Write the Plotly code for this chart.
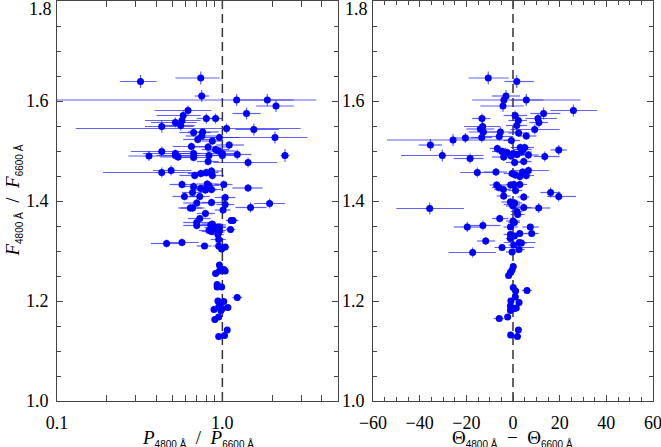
import plotly.graph_objects as go

# left panel: polarisation ratio vs flux ratio
left_ratio = [0.32, 0.74, 0.75, 1.22, 1.87, 2.11, 1.40, 0.62, 0.58, 0.57,
              0.52, 0.56, 0.43, 1.06, 0.80, 0.91, 1.55, 0.67, 0.76, 0.75,
              0.71, 0.96, 2.08, 0.87, 0.65, 0.82, 1.10, 0.91, 0.95, 1.00,
              0.67, 0.43, 0.52, 0.36, 0.52, 0.54, 0.67, 0.83, 1.00, 1.23,
              2.39, 1.43, 0.82, 0.43, 0.49, 0.68, 0.74, 0.80, 0.86, 0.87,
              1.02, 0.57, 0.67, 0.81, 0.83, 0.74, 0.79, 0.66, 0.86, 1.43,
              0.59, 0.73, 1.04, 0.86, 0.70, 1.04, 1.93, 1.48, 0.64, 0.66,
              1.01, 0.79, 1.13, 1.16, 0.73, 0.70, 0.70, 0.85, 0.87, 0.95,
              0.90, 0.83, 0.86, 0.95, 1.12, 0.95, 0.94, 0.46, 0.57, 0.78,
              0.95, 0.95, 0.99, 1.04, 0.96, 0.91, 0.96, 1.02, 1.04, 0.93,
              0.93, 0.99, 1.23, 0.94, 0.97, 1.02, 0.95, 1.00, 1.08, 0.89,
              0.98, 0.90, 0.95, 1.07, 0.95, 1.03]
left_ratio_lo = [0.24, 0.52, 0.68, 0.06, 1.28, 1.60, 1.15, 0.39, 0.40, 0.34,
                 0.37, 0.45, 0.34, 0.13, 0.70, 0.82, 1.20, 0.55, 0.62, 0.60,
                 0.58, 0.75, 0.88, 0.75, 0.50, 0.65, 0.92, 0.75, 0.80, 0.85,
                 0.55, 0.28, 0.33, 0.27, 0.40, 0.42, 0.55, 0.70, 0.85, 1.05,
                 2.25, 0.88, 0.70, 0.19, 0.38, 0.55, 0.62, 0.68, 0.74, 0.75,
                 0.90, 0.48, 0.55, 0.70, 0.72, 0.64, 0.68, 0.57, 0.76, 1.15,
                 0.50, 0.63, 0.90, 0.75, 0.58, 0.92, 1.55, 1.20, 0.54, 0.56,
                 0.90, 0.70, 1.05, 1.08, 0.62, 0.58, 0.58, 0.70, 0.75, 0.85,
                 0.78, 0.72, 0.75, 0.85, 1.05, 0.88, 0.85, 0.37, 0.46, 0.70,
                 0.85, 0.88, 0.93, 0.98, 0.93, 0.88, 0.93, 0.99, 1.01, 0.90,
                 0.90, 0.96, 1.15, 0.91, 0.94, 0.99, 0.92, 0.97, 1.05, 0.86,
                 0.95, 0.87, 0.92, 1.04, 0.92, 1.00]
left_ratio_hi = [0.40, 0.96, 0.83, 3.70, 2.70, 2.70, 1.70, 0.86, 0.74, 0.74,
                 0.70, 0.68, 0.67, 2.97, 0.92, 1.00, 2.20, 0.85, 0.95, 0.92,
                 0.88, 1.25, 3.27, 1.00, 0.85, 1.05, 1.35, 1.10, 1.20, 1.20,
                 0.82, 0.67, 0.74, 0.67, 0.72, 0.70, 0.85, 1.05, 1.25, 1.50,
                 2.55, 2.14, 0.95, 0.70, 0.65, 0.82, 0.90, 0.95, 1.00, 1.02,
                 1.15, 0.68, 0.80, 0.95, 0.96, 0.86, 0.92, 0.76, 0.98, 1.75,
                 0.70, 0.84, 1.20, 1.00, 0.85, 1.18, 2.40, 1.85, 0.75, 0.78,
                 1.12, 0.90, 1.22, 1.25, 0.85, 0.84, 0.86, 1.05, 1.00, 1.05,
                 1.05, 0.95, 0.98, 1.05, 1.20, 1.03, 1.02, 0.56, 0.72, 0.86,
                 1.05, 1.02, 1.05, 1.10, 0.99, 0.94, 0.99, 1.05, 1.07, 0.96,
                 0.96, 1.02, 1.32, 0.97, 1.00, 1.05, 0.98, 1.03, 1.11, 0.92,
                 1.01, 0.93, 0.98, 1.10, 0.98, 1.06]
left_flux = [1.639, 1.646, 1.610, 1.602, 1.602, 1.590, 1.575, 1.581, 1.571, 1.561,
             1.557, 1.551, 1.549, 1.545, 1.565, 1.565, 1.543, 1.537, 1.538, 1.530,
             1.523, 1.527, 1.527, 1.520, 1.509, 1.508, 1.512, 1.503, 1.500, 1.495,
             1.495, 1.499, 1.495, 1.490, 1.491, 1.488, 1.487, 1.491, 1.491, 1.493,
             1.491, 1.477, 1.479, 1.457, 1.461, 1.451, 1.455, 1.457, 1.460, 1.451,
             1.433, 1.433, 1.429, 1.434, 1.431, 1.425, 1.422, 1.417, 1.423, 1.426,
             1.409, 1.409, 1.407, 1.397, 1.396, 1.393, 1.395, 1.387, 1.386, 1.386,
             1.382, 1.375, 1.361, 1.361, 1.365, 1.357, 1.351, 1.352, 1.354, 1.348,
             1.347, 1.341, 1.339, 1.341, 1.343, 1.338, 1.333, 1.315, 1.317, 1.310,
             1.323, 1.310, 1.304, 1.308, 1.272, 1.255, 1.260, 1.263, 1.260, 1.233,
             1.228, 1.228, 1.207, 1.200, 1.197, 1.199, 1.188, 1.185, 1.187, 1.183,
             1.181, 1.163, 1.168, 1.142, 1.129, 1.131]
left_flux_err = [0.013, 0.013, 0.012, 0.012, 0.012, 0.012, 0.012, 0.010, 0.010, 0.010,
                 0.010, 0.010, 0.012, 0.010, 0.010, 0.010, 0.012, 0.008, 0.008, 0.008,
                 0.008, 0.008, 0.012, 0.008, 0.008, 0.008, 0.008, 0.008, 0.008, 0.008,
                 0.008, 0.010, 0.008, 0.010, 0.008, 0.008, 0.008, 0.008, 0.008, 0.010,
                 0.013, 0.010, 0.008, 0.010, 0.010, 0.008, 0.008, 0.008, 0.008, 0.008,
                 0.008, 0.008, 0.008, 0.008, 0.008, 0.008, 0.008, 0.008, 0.008, 0.008,
                 0.008, 0.008, 0.008, 0.008, 0.008, 0.008, 0.010, 0.010, 0.008, 0.008,
                 0.008, 0.008, 0.006, 0.006, 0.006, 0.008, 0.008, 0.006, 0.006, 0.006,
                 0.006, 0.006, 0.006, 0.006, 0.006, 0.006, 0.006, 0.008, 0.008, 0.006,
                 0.006, 0.006, 0.006, 0.006, 0.005, 0.005, 0.005, 0.005, 0.005, 0.005,
                 0.005, 0.005, 0.007, 0.005, 0.005, 0.005, 0.005, 0.005, 0.005, 0.005,
                 0.005, 0.005, 0.005, 0.005, 0.005, 0.005]

# right panel: angle difference vs flux ratio
right_angle = [-10.6, 1.6, -3.0, -3.9, 5.7, -4.3, 25.9, 13.1, 0.9, -13.3,
               10.7, 2.3, 11.1, 1.6, -13.0, -14.0, -12.7, -5.4, 2.4, 9.3,
               5.7, -5.9, -13.4, -20.4, -25.7, -0.7, -35.4, -6.7, 19.6, -4.7,
               -2.6, 0.1, 3.1, 4.3, 5.0, 3.6, 1.7, 6.6, -30.3, -4.0,
               -0.9, 13.6, -18.4, 0.7, 4.6, -15.3, -7.3, -0.4, 1.0, 2.9,
               4.1, 5.7, 6.6, -7.0, -6.1, -4.1, -4.0, -1.0, 0.4, 2.9,
               1.1, 4.6, 16.1, 19.6, -35.7, -1.1, -0.4, 0.7, 0.0, 4.6,
               11.0, 1.7, 2.0, -5.7, 0.0, 0.6, -19.6, -12.9, -1.1, 7.4,
               -11.7, -4.7, -17.3, -0.4, 0.3, 2.7, 3.6, 2.6, 8.0, 2.9,
               -1.1, -1.1, 0.6, 0.1, -0.4, -1.1, -1.9, 0.1, 1.1, 6.0,
               1.0, -0.9, 2.6, -1.1, 0.6, 1.4, -1.1, -2.3, -5.9, 2.3,
               -1.0, 1.9]
right_angle_lo = [-19.0, -3.7, -9.0, -17.6, -1.0, -14.0, 16.0, 7.4, -4.0, -17.6,
                  5.3, -2.0, 7.0, -3.0, -21.0, -20.0, -19.0, -14.0, -2.0, -1.1,
                  2.0, -12.0, -18.0, -26.0, -54.0, -4.0, -40.4, -10.0, 16.0, -9.0,
                  -7.0, -4.0, -1.0, 0.0, 1.0, -1.0, -3.0, 2.0, -48.0, -9.0,
                  -5.0, 8.9, -25.4, -3.0, 1.0, -22.6, -12.6, -4.0, -2.0, 0.0,
                  1.0, 2.0, 0.3, -10.0, -9.0, -8.0, -7.0, -4.0, -3.0, 0.0,
                  -2.0, 2.0, 11.7, 14.6, -50.0, -5.0, -4.0, -2.0, -3.0, 1.0,
                  3.1, -1.0, -1.0, -9.0, -3.0, -2.0, -25.4, -18.3, -4.0, 4.0,
                  -15.4, -8.0, -27.6, -3.0, -2.0, -4.0, 1.0, 0.0, 5.3, 0.0,
                  -4.0, -3.0, -2.0, -0.9, -1.4, -2.1, -2.9, -0.9, 0.1, 3.9,
                  0.0, -1.9, 1.6, -2.1, -0.4, 0.4, -2.1, -3.3, -8.3, 1.3,
                  -2.0, 0.9]
right_angle_hi = [-1.9, 8.9, 3.0, 28.9, 13.0, 4.6, 36.0, 20.3, 6.0, -9.7,
                  18.9, 6.0, 15.0, 6.0, -5.4, -8.0, -5.4, 1.7, 7.0, 20.0,
                  10.0, 0.0, -9.0, -14.0, -1.1, 3.0, -30.4, -3.0, 23.0, 0.0,
                  2.0, 4.0, 7.0, 8.0, 9.0, 8.0, 6.0, 11.0, -12.6, 1.0,
                  3.0, 20.0, -12.6, 4.0, 8.0, -8.0, -2.6, 3.0, 4.0, 6.0,
                  7.0, 9.0, 15.3, -4.0, -3.0, -1.0, -1.0, 2.0, 4.0, 6.0,
                  4.0, 7.0, 20.3, 27.0, -21.0, 3.0, 3.0, 4.0, 3.0, 8.0,
                  16.0, 4.0, 5.0, -2.0, 3.0, 3.0, -14.0, -5.4, 2.0, 11.0,
                  -7.6, 9.0, -7.3, 2.0, 3.0, 9.6, 6.0, 5.0, 11.0, 6.0,
                  2.0, 1.0, 3.0, 1.1, 0.6, -0.1, -0.9, 1.1, 2.1, 8.1,
                  2.0, 0.1, 3.6, -0.1, 1.6, 2.4, -0.1, -1.3, -4.0, 3.3,
                  0.0, 2.9]
right_flux = [1.646, 1.639, 1.610, 1.602, 1.602, 1.590, 1.581, 1.575, 1.571, 1.565,
              1.565, 1.561, 1.557, 1.551, 1.549, 1.544, 1.538, 1.538, 1.536, 1.543,
              1.530, 1.529, 1.527, 1.526, 1.522, 1.521, 1.512, 1.505, 1.502, 1.499,
              1.497, 1.495, 1.507, 1.503, 1.507, 1.498, 1.493, 1.492, 1.491, 1.488,
              1.490, 1.489, 1.485, 1.477, 1.479, 1.457, 1.458, 1.455, 1.452, 1.449,
              1.458, 1.451, 1.461, 1.432, 1.427, 1.423, 1.410, 1.432, 1.433, 1.433,
              1.421, 1.408, 1.417, 1.409, 1.385, 1.398, 1.393, 1.396, 1.390, 1.387,
              1.386, 1.379, 1.373, 1.365, 1.360, 1.357, 1.348, 1.351, 1.348, 1.348,
              1.320, 1.307, 1.297, 1.298, 1.312, 1.317, 1.316, 1.303, 1.335, 1.335,
              1.333, 1.325, 1.330, 1.269, 1.262, 1.257, 1.251, 1.227, 1.220, 1.221,
              1.208, 1.200, 1.197, 1.190, 1.185, 1.186, 1.181, 1.168, 1.165, 1.142,
              1.132, 1.129]
right_flux_err = [0.013, 0.013, 0.012, 0.012, 0.012, 0.012, 0.012, 0.012, 0.010, 0.010,
                  0.010, 0.010, 0.010, 0.010, 0.012, 0.010, 0.010, 0.010, 0.008, 0.010,
                  0.008, 0.008, 0.010, 0.010, 0.012, 0.008, 0.012, 0.008, 0.010, 0.008,
                  0.008, 0.008, 0.008, 0.008, 0.008, 0.008, 0.008, 0.008, 0.012, 0.008,
                  0.008, 0.010, 0.010, 0.008, 0.008, 0.010, 0.008, 0.008, 0.008, 0.008,
                  0.008, 0.008, 0.008, 0.008, 0.008, 0.008, 0.008, 0.008, 0.008, 0.008,
                  0.008, 0.008, 0.010, 0.010, 0.012, 0.008, 0.008, 0.008, 0.008, 0.008,
                  0.010, 0.006, 0.006, 0.008, 0.006, 0.006, 0.010, 0.010, 0.006, 0.006,
                  0.008, 0.006, 0.010, 0.006, 0.006, 0.006, 0.006, 0.006, 0.006, 0.006,
                  0.006, 0.006, 0.006, 0.005, 0.005, 0.005, 0.005, 0.005, 0.005, 0.006,
                  0.005, 0.005, 0.005, 0.005, 0.005, 0.005, 0.005, 0.005, 0.005, 0.005,
                  0.005, 0.005]

# dashed reference lines
left_ref_x = [1.0, 1.0]
right_ref_x = [0.0, 0.0]
ref_span = [1.0, 1.8]

log_tickvals = [0.1, 0.2, 0.3, 0.4, 0.5, 0.6, 0.7, 0.8, 0.9, 1.0, 2.0, 3.0, 4.0, 5.0]
log_ticktext = ["0.1", "", "", "", "", "", "", "", "", "1.0", "", "", "", ""]
flux_tickvals = [1.0, 1.2, 1.4, 1.6, 1.8]
# the top label is drawn separately (nudged down so it stays inside the page)
flux_ticktext = ["1.0", "1.2", "1.4", "1.6", ""]
flux_top_label = "1.8"

BLUE = "#0000ff"
ERR = "rgba(30,30,255,0.7)"
AX = "#444444"
SERIF = "Liberation Serif"

fig = go.Figure()

fig.add_trace(go.Scatter(x=left_ref_x, y=ref_span, mode="lines",
                         line=dict(color="#333333", width=1.5, dash="9px,5px"),
                         xaxis="x", yaxis="y", showlegend=False, hoverinfo="skip"))
fig.add_trace(go.Scatter(x=right_ref_x, y=ref_span, mode="lines",
                         line=dict(color="#333333", width=1.5, dash="9px,5px"),
                         xaxis="x2", yaxis="y2", showlegend=False, hoverinfo="skip"))

fig.add_trace(go.Scatter(
    x=left_ratio, y=left_flux, mode="markers",
    marker=dict(color=BLUE, size=7, line=dict(width=0)),
    error_x=dict(type="data", symmetric=False,
                 array=[h - v for h, v in zip(left_ratio_hi, left_ratio)],
                 arrayminus=[v - l for l, v in zip(left_ratio_lo, left_ratio)],
                 color=ERR, thickness=1.2, width=0),
    error_y=dict(type="data", array=left_flux_err, color=ERR, thickness=1.2, width=0),
    xaxis="x", yaxis="y", showlegend=False))

fig.add_trace(go.Scatter(
    x=right_angle, y=right_flux, mode="markers",
    marker=dict(color=BLUE, size=7, line=dict(width=0)),
    error_x=dict(type="data", symmetric=False,
                 array=[h - v for h, v in zip(right_angle_hi, right_angle)],
                 arrayminus=[v - l for l, v in zip(right_angle_lo, right_angle)],
                 color=ERR, thickness=1.2, width=0),
    error_y=dict(type="data", array=right_flux_err, color=ERR, thickness=1.2, width=0),
    xaxis="x2", yaxis="y2", showlegend=False))

tick_font = dict(family=SERIF, size=18, color="black")
axis_common = dict(showline=True, linecolor=AX, linewidth=1, mirror="ticks",
                   ticks="inside", ticklen=6, tickcolor=AX, tickwidth=1,
                   showgrid=False, zeroline=False, automargin=False,
                   ticklabeloverflow="allow", tickfont=tick_font)
minor_common = dict(ticks="inside", ticklen=4, tickcolor=AX, tickwidth=1, showgrid=False)

fig.update_layout(
    width=661, height=447,
    margin=dict(l=0, r=0, t=1, b=46, autoexpand=False),
    paper_bgcolor="white", plot_bgcolor="white",
    xaxis=dict(type="log", range=[-1, 0.699], domain=[0.0862, 0.5113], anchor="y",
               tickvals=log_tickvals, ticktext=log_ticktext, ticklabelstandoff=5,
               **axis_common),
    yaxis=dict(range=[1.0, 1.8], tickvals=flux_tickvals, ticktext=flux_ticktext,
               anchor="x", minor=dict(tick0=1.0, dtick=0.05, **minor_common),
               ticklabelstandoff=4, **axis_common),
    xaxis2=dict(range=[-60, 60], dtick=20, domain=[0.5643, 0.9879], anchor="y2",
                minor=dict(dtick=5, **minor_common), ticklabelstandoff=5,
                **axis_common),
    yaxis2=dict(range=[1.0, 1.8], tickvals=flux_tickvals, ticktext=flux_ticktext,
                anchor="x2", minor=dict(tick0=1.0, dtick=0.05, **minor_common),
                ticklabelstandoff=4, **axis_common),
)

for xr, yr in (("x domain", "y"), ("x2 domain", "y2")):
    fig.add_annotation(text=flux_top_label, xref=xr, yref=yr, x=0, y=flux_tickvals[-1],
                       xanchor="right", yanchor="middle", xshift=-3, yshift=-8,
                       showarrow=False, font=tick_font)

SUB = '<sub><span style="font-family:Liberation Sans;font-size:10px">{}</span></sub>'
GAP = "\u00a0\u00a0"
title_font = dict(family=SERIF, size=19, color="black")

fig.add_annotation(
    text="<i>P</i>" + SUB.format("4800 Å") + GAP + "/" + GAP + "<i>P</i>" + SUB.format("6600 Å"),
    xref="paper", yref="paper", x=0.2988, y=-0.0925, showarrow=False,
    xanchor="center", yanchor="middle", font=title_font)
fig.add_annotation(
    text="Θ" + SUB.format("4800 Å") + GAP + "−" + GAP + "Θ" + SUB.format("6600 Å"),
    xref="paper", yref="paper", x=0.7746, y=-0.0925, showarrow=False,
    xanchor="center", yanchor="middle", font=title_font)
fig.add_annotation(
    text="<i>F</i>" + SUB.format("4800 Å") + GAP + "/" + GAP + "<i>F</i>" + SUB.format("6600 Å"),
    xref="paper", yref="paper", x=0.019, y=0.5, showarrow=False, textangle=-90,
    xanchor="center", yanchor="middle", font=title_font)

# the page's default 8px body margin would push the figure out of the window
fig.write_html("out.html", config={"displayModeBar": False},
               post_script="document.body.style.margin='0px';")
